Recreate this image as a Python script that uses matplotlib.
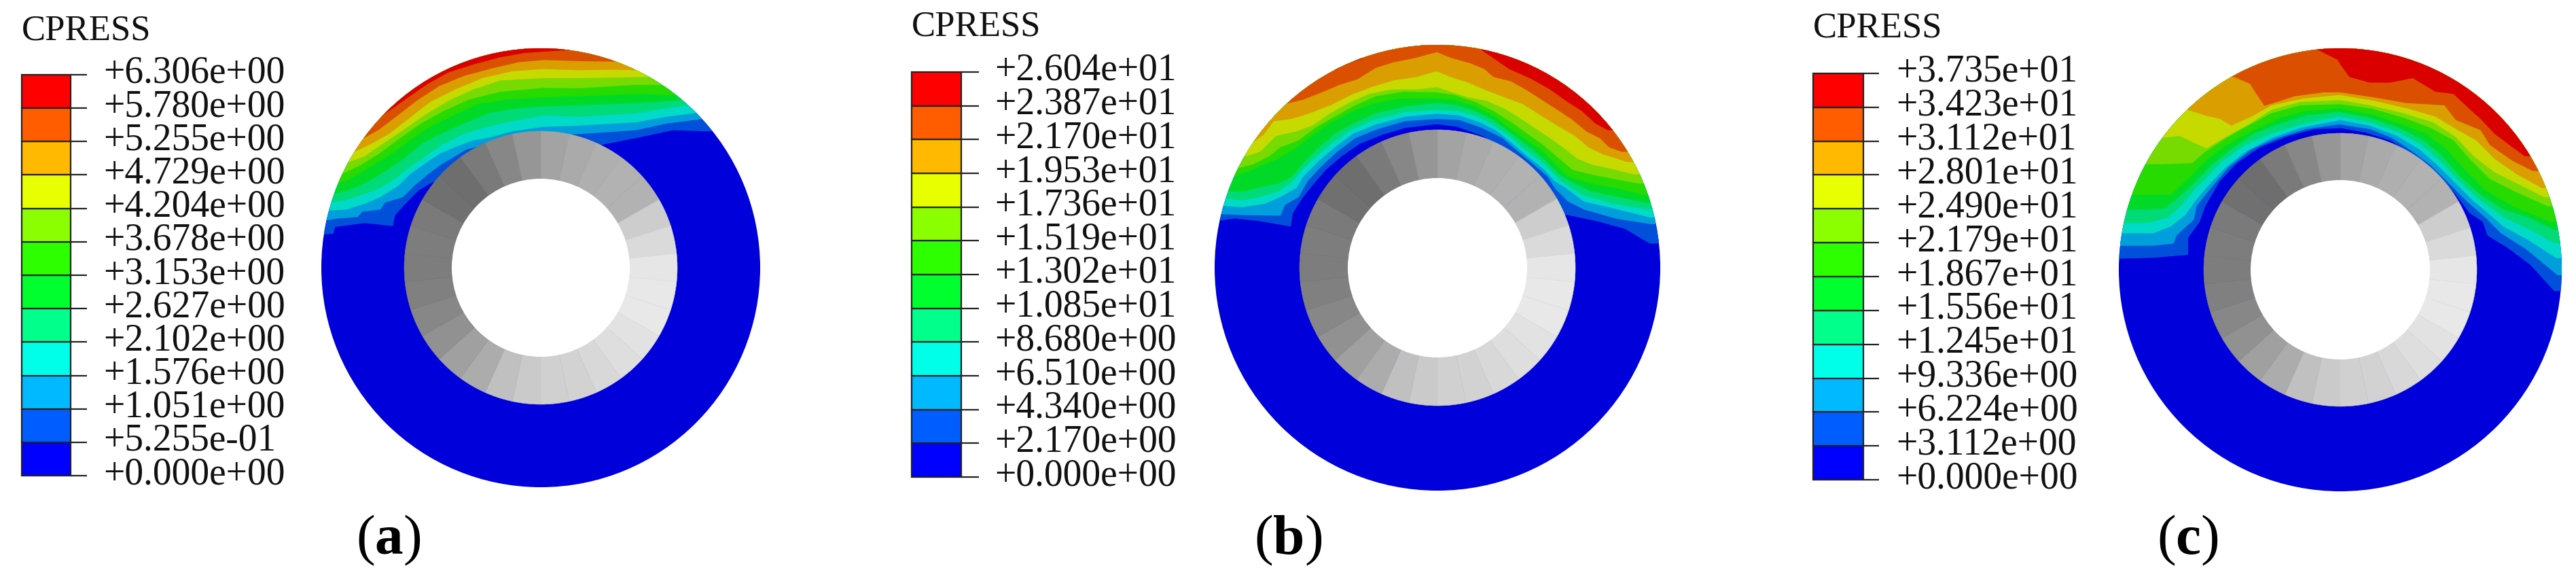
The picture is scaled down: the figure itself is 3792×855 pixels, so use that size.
import numpy as np
import matplotlib
matplotlib.use("Agg")
import matplotlib.pyplot as plt
from matplotlib.patches import Circle, Wedge, Rectangle

plt.rcParams['font.family'] = ['Liberation Serif', 'DejaVu Serif']
plt.rcParams['mathtext.fontset'] = 'custom'
plt.rcParams['mathtext.bf'] = 'Liberation Serif:bold'
plt.rcParams['mathtext.rm'] = 'Liberation Serif'

title = "CPRESS"
labels_a = ["+6.306e+00","+5.780e+00","+5.255e+00","+4.729e+00","+4.204e+00","+3.678e+00","+3.153e+00",
            "+2.627e+00","+2.102e+00","+1.576e+00","+1.051e+00","+5.255e-01","+0.000e+00"]
labels_b = ["+2.604e+01","+2.387e+01","+2.170e+01","+1.953e+01","+1.736e+01","+1.519e+01","+1.302e+01",
            "+1.085e+01","+8.680e+00","+6.510e+00","+4.340e+00","+2.170e+00","+0.000e+00"]
labels_c = ["+3.735e+01","+3.423e+01","+3.112e+01","+2.801e+01","+2.490e+01","+2.179e+01","+1.867e+01",
            "+1.556e+01","+1.245e+01","+9.336e+00","+6.224e+00","+3.112e+00","+0.000e+00"]
panel_names = ["a", "b", "c"]

# bands from lowest to highest
band_colors = ["#0000FF","#005DFF","#00B9FF","#00FFE8","#00FF8B","#00FF2E",
               "#2EFF00","#8BFF00","#E8FF00","#FFB900","#FF5D00","#FF0000"]
shade = 0.855

# grey shade of the inner ring sectors: sector centre angle (deg) and 0-255 value
ring_angles = [84,72,60,48,36,24,12,0,-12,-24,-36,-48,-60,-72,-84,-96,-108,-120,-132,-144,-156,-168,180,168,156,144,132,120,108,96]
ring_grays = [163,170,175,178,178,205,218,230,232,232,226,222,216,210,208,202,192,172,160,145,135,128,125,125,122,112,110,122,135,150]

# contour lines between bands, low to high, in units of 1/3 pixel from the panel's crop origin
contours_a = [
 [(8,855),(62,852),(70,822),(200,805),(325,818),(335,770),(390,710),(440,660),(490,630),(890,480),(1144,470),(1245,460),(1398,430),(1563,395),(1728,400)],
 [(18,795),(80,785),(170,778),(190,755),(270,745),(290,715),(370,690),(420,640),(480,590),(540,545),(600,510),(650,480),(850,430),(1144,412),(1398,395),(1538,365),(1697,345)],
 [(28,750),(120,745),(200,720),(270,690),(350,640),(400,590),(470,540),(530,500),(600,470),(680,440),(760,425),(850,400),(990,380),(1144,375),(1398,360),(1538,335),(1671,318)],
 [(42,715),(110,705),(190,680),(270,650),(340,605),(390,565),(470,510),(540,460),(620,420),(720,385),(830,360),(990,330),(1144,335),(1398,320),(1525,300),(1633,283)],
 [(50,680),(130,660),(220,620),(300,570),(380,515),(460,450),(540,410),(640,365),(750,320),(860,300),(990,290),(1144,285),(1398,275),(1604,262)],
 [(60,640),(130,615),(220,560),(320,500),(400,440),(490,380),(590,330),(700,280),(820,260),(990,250),(1144,245),(1398,235),(1563,240)],
 [(85,595),(180,550),(270,495),(350,435),(450,365),(550,310),(660,260),(800,225),(990,208),(1144,210),(1398,195),(1519,195)],
 [(120,540),(200,510),(280,455),(370,395),(470,325),(570,265),(680,215),(800,175),(990,165),(1144,165),(1335,162),(1449,160)],
 [(145,495),(230,455),(310,410),(400,340),(490,270),(600,215),(720,165),(850,135),(990,125),(1144,130),(1322,128),(1385,130)],
 [(178,440),(260,395),(340,335),(430,265),(530,200),(640,155),(770,120),(880,95),(990,85),(1144,90),(1296,92)],
 [(255,345),(330,295),(400,245),(480,190),(570,140),(680,105),(790,75),(900,55),(990,48),(1093,42)],
]
contours_b_left = [
 [(15,795),(100,785),(200,795),(345,820),(355,760),(400,690),(440,640),(500,570),(570,510),(650,455),(750,415),(850,385),(990,368)],
 [(28,765),(150,770),(300,772),(320,725),(380,690),(420,620),(480,555),(550,490),(630,430),(730,390),(850,355),(990,345)],
 [(42,728),(130,735),(230,720),(300,690),(370,650),(400,600),(470,530),(540,470),(620,410),(720,370),(850,335),(990,322)],
 [(52,695),(130,705),(210,690),(290,665),(350,625),(390,575),(460,510),(530,450),(610,395),(710,350),(850,315),(990,305)],
 [(60,665),(140,665),(220,645),(290,630),(350,600),(400,540),(470,470),(540,410),(620,365),(720,320),(850,290),(990,275)],
 [(85,600),(150,580),(220,550),(290,520),(360,480),(440,420),(510,370),(600,320),(700,280),(820,255),(990,255)],
 [(105,565),(180,545),(250,510),(300,470),(380,440),(460,380),(540,335),(630,285),(720,245),(840,225),(990,228)],
 [(130,515),(210,490),(280,420),(370,400),(440,375),(520,320),(600,275),(690,235),(790,215),(900,215),(990,205)],
 [(160,465),(230,410),(270,355),(350,345),(430,320),(520,285),(610,240),(700,205),(800,175),(900,160),(990,135)],
 [(320,280),(400,260),(490,225),(560,195),(640,170),(720,120),(800,95),(900,75),(990,50)],
 [(540,130),(610,95),(660,80),(680,30)],
]
contours_b_right = [
 [(90,380),(200,420),(300,480),(390,550),(450,600),(500,660),(555,765),(700,795),(830,830),(940,895)],
 [(100,350),(200,385),(290,430),(360,490),(420,540),(490,600),(520,650),(580,710),(650,745),(790,785),(945,810)],
 [(100,330),(190,360),(260,395),(330,450),(400,510),(470,565),(520,620),(570,650),(650,710),(780,740),(940,780)],
 [(90,310),(170,330),(240,365),(320,420),(390,480),(460,530),(510,580),(550,620),(640,680),(780,720),(930,745)],
 [(90,285),(170,310),(250,350),(330,410),(410,470),(480,530),(540,590),(590,620),(680,665),(800,690),(920,715)],
 [(80,262),(170,290),(250,330),(320,385),(400,440),(470,490),(530,550),(580,600),(680,630),(790,650),(910,680)],
 [(80,240),(170,270),(250,310),(330,360),(400,410),(470,460),(540,520),(600,570),(680,590),(780,610),(890,630)],
 [(60,225),(140,250),(220,265),(300,300),(380,350),(440,390),(500,430),(570,480),(620,520),(680,545),(790,570),(870,590)],
 [(60,160),(140,185),(220,220),(300,250),(380,280),(460,330),(540,380),(610,420),(670,470),(730,500),(840,535)],
 [(60,75),(150,100),(210,125),(250,160),(330,180),(400,220),(470,265),(540,310),(600,350),(660,400),(720,430),(760,470),(815,490)],
 [(160,10),(210,50),(320,125),(420,170),(500,215),(570,265),(640,310),(700,365),(755,395)],
]
contours_c_left = [
 [(6,962),(165,958),(318,945),(318,870),(369,800),(394,730),(458,620),(534,540),(636,470),(763,420),(877,390),(979,387)],
 [(15,905),(165,905),(254,895),(267,860),(343,790),(356,730),(419,650),(496,560),(597,480),(712,430),(839,390),(979,370)],
 [(23,850),(165,850),(241,820),(305,770),(356,700),(407,640),(483,560),(572,490),(686,430),(813,385),(979,352)],
 [(32,805),(140,805),(229,780),(286,730),(343,660),(394,610),(470,530),(572,460),(686,410),(813,370),(979,335)],
 [(47,745),(140,745),(216,740),(267,700),(343,630),(419,550),(508,480),(610,410),(712,370),(839,330),(979,315)],
 [(64,680),(140,680),(241,680),(318,610),(407,520),(496,455),(597,400),(724,340),(839,310),(979,300)],
 [(133,545),(203,545),(337,540),(394,490),(470,440),(572,380),(686,320),(813,285),(979,280)],
 [(191,430),(280,420),(343,450),(400,475),(483,425),(585,370),(686,305),(813,270),(979,262)],
 [(315,305),(394,330),(458,345),(508,375),(597,335),(686,285),(826,255),(979,240)],
 [(521,160),(591,190),(623,240),(655,288),(788,245),(915,228),(979,228)],
 [(890,40),(979,85)],
]
contours_c_right = [
 [(0,385),(110,405),(220,440),(310,495),(380,540),(450,610),(510,680),(570,760),(630,800),(650,860),(740,915),(840,990),(945,1105)],
 [(0,370),(130,390),(230,430),(320,490),(400,550),(490,640),(560,710),(640,780),(710,850),(820,920),(960,1035)],
 [(0,350),(130,375),(250,420),(350,480),(430,550),(510,630),(590,710),(640,750),(720,820),(830,880),(955,960)],
 [(0,335),(130,360),(260,405),(360,460),(440,530),(520,615),(600,690),(640,720),(720,780),(830,830),(950,895)],
 [(0,315),(130,340),(260,385),(370,440),(450,510),(530,600),(620,680),(720,745),(830,780),(945,835)],
 [(0,300),(140,325),(260,365),(380,410),(470,480),(550,570),(640,660),(760,730),(930,800)],
 [(0,280),(140,300),(280,340),(400,385),(500,440),(570,520),(660,610),(780,670),(915,730)],
 [(0,262),(130,285),(280,320),(410,360),(510,425),(590,510),(680,580),(800,640),(900,690)],
 [(0,240),(150,265),(300,300),(420,335),(520,395),(600,440),(680,520),(780,590),(890,650)],
 [(0,228),(150,250),(290,275),(460,285),(510,350),(620,395),(660,460),(760,530),(850,575)],
 [(0,105),(40,160),(130,185),(220,185),(320,165),(420,225),(500,235),(580,310),(620,345),(680,410),(760,470),(815,510)],
]

RIGHT_SHIFT = 990

def join_halves(left, right):
    return [list(l) + [(x + RIGHT_SHIFT, y) for x, y in r] for l, r in zip(left, right)]

contours_b = join_halves(contours_b_left, contours_b_right)
contours_c = join_halves(contours_c_left, contours_c_right)

H = 855
fig = plt.figure(figsize=(37.92, 8.55), dpi=100, facecolor="white")
ax = fig.add_axes([0, 0, 1, 1])
ax.set_xlim(0, 3792)
ax.set_ylim(0, H)
ax.axis("off")

layouts = [
    dict(contours=contours_a, labels=labels_a, crop=(470, 60), c=(796, 394), R=323, Rg=201, Rh=131,
         bar=(32, 104), tick_end=128, text_x=152, top=110, bot=700, title_y=46, lab_x=572),
    dict(contours=contours_b, labels=labels_b, crop=(1785, 60), c=(2116, 394), R=328, Rg=203, Rh=132,
         bar=(1342, 1415), tick_end=1441, text_x=1464, top=106, bot=702, title_y=40, lab_x=1896),
    dict(contours=contours_c, labels=labels_c, crop=(3115, 60), c=(3445, 397), R=326, Rg=201, Rh=132,
         bar=(2669, 2743), tick_end=2766, text_x=2791, top=108, bot=706, title_y=42, lab_x=3220),
]

def to_fig(pts, crop):
    pts = np.asarray(pts, float)
    return crop[0] + pts[:, 0] / 3.0, H - (crop[1] + pts[:, 1] / 3.0)

def ring_color(hexc):
    return tuple(v * shade for v in matplotlib.colors.to_rgb(hexc))

for name, L in zip(panel_names, layouts):
    cx, cy = L["c"][0], H - L["c"][1]
    disc = Circle((cx, cy), L["R"], fc=ring_color(band_colors[0]), ec="none", zorder=1)
    ax.add_patch(disc)
    for k, line in enumerate(L["contours"]):
        x, y = to_fig(line, L["crop"])
        xs = np.r_[x[0] - 400, x, x[-1] + 400, x[-1] + 400, x[0] - 400]
        ys = np.r_[y[0], y, y[-1], H + 200, H + 200]
        poly = ax.fill(xs, ys, fc=ring_color(band_colors[k + 1]), ec="none", zorder=2 + k)[0]
        poly.set_clip_path(disc)
    for a, g in zip(ring_angles, ring_grays):
        col = (g / 255,) * 3
        ax.add_patch(Wedge((cx, cy), L["Rg"], a - 6, a + 6, fc=col, ec=col, lw=0.4, zorder=20))
    ax.add_patch(Circle((cx, cy), L["Rh"], fc="white", ec="none", zorder=21))

    n = len(band_colors)
    edges = np.linspace(H - L["bot"], H - L["top"], n + 1)
    x0, x1 = L["bar"]
    for i, col in enumerate(band_colors):
        ax.add_patch(Rectangle((x0, edges[i]), x1 - x0, edges[i + 1] - edges[i], fc=col, ec="#222222", lw=1.6, zorder=5))
    ax.hlines(edges, x1, L["tick_end"], color="#222222", lw=1.6, zorder=5)
    for e, lab in zip(edges[::-1], L["labels"]):
        ax.text(L["text_x"], e - 12, lab, fontsize=40, color="#111111", ha="left", va="baseline")
    ax.text(x0, H - L["title_y"], title, fontsize=38, color="#111111", ha="left", va="center")
    ax.text(L["lab_x"], H - 795, r"($\mathbf{%s}$)" % name, fontsize=60, color="black", ha="center", va="center")

fig.savefig("out.png", dpi=100, facecolor="white")
